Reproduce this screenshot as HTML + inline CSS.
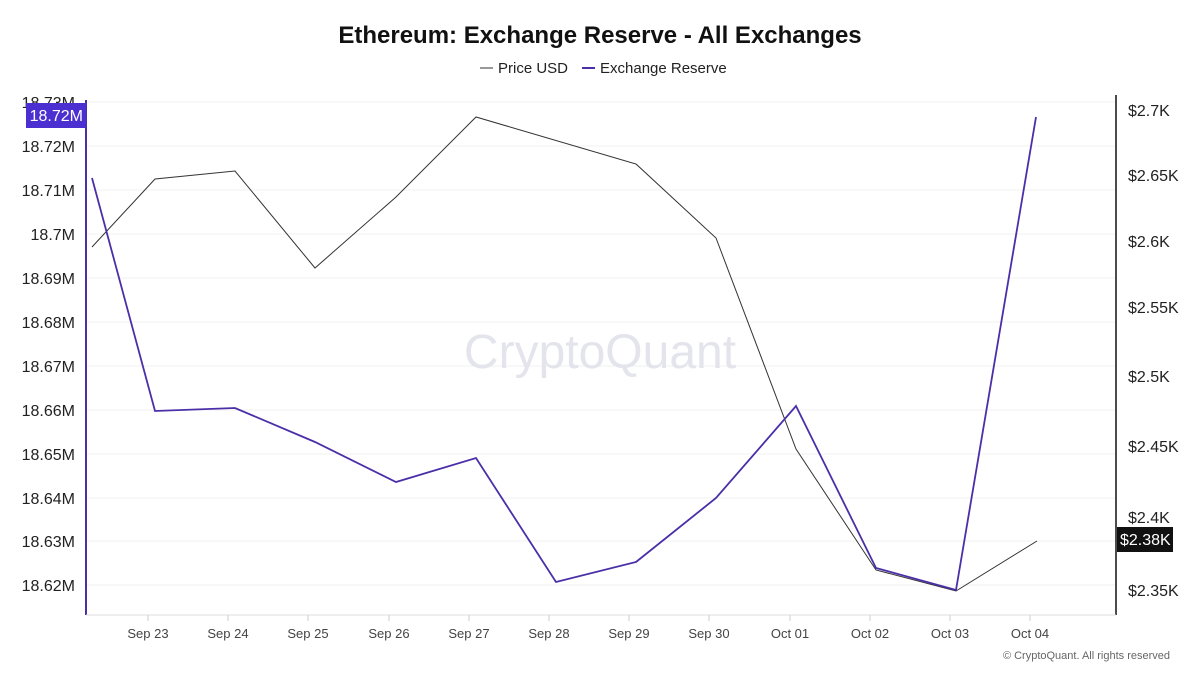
<!DOCTYPE html>
<html><head><meta charset="utf-8"><style>
body{margin:0;background:#fff;width:1200px;height:675px;overflow:hidden;font-family:"Liberation Sans",sans-serif}
</style></head><body>
<svg width="1200" height="675" xmlns="http://www.w3.org/2000/svg" font-family="Liberation Sans, sans-serif">
<text x="600" y="43" text-anchor="middle" font-size="24" font-weight="bold" fill="#111">Ethereum: Exchange Reserve - All Exchanges</text>
<line x1="480" y1="68" x2="493" y2="68" stroke="#333" stroke-width="1"/>
<text x="498" y="73" font-size="15" fill="#222">Price USD</text>
<line x1="582" y1="68" x2="595" y2="68" stroke="#4b2fa8" stroke-width="2"/>
<text x="600" y="73" font-size="15" fill="#222">Exchange Reserve</text>
<g stroke="#f0f0f0" stroke-width="1">
<line x1="86" x2="1116" y1="102" y2="102"/><line x1="86" x2="1116" y1="146" y2="146"/><line x1="86" x2="1116" y1="190" y2="190"/><line x1="86" x2="1116" y1="234" y2="234"/><line x1="86" x2="1116" y1="278" y2="278"/><line x1="86" x2="1116" y1="322" y2="322"/><line x1="86" x2="1116" y1="366" y2="366"/><line x1="86" x2="1116" y1="410" y2="410"/><line x1="86" x2="1116" y1="454" y2="454"/><line x1="86" x2="1116" y1="498" y2="498"/><line x1="86" x2="1116" y1="541" y2="541"/><line x1="86" x2="1116" y1="585" y2="585"/>
</g>
<text x="600" y="368" text-anchor="middle" font-size="48" fill="#e4e4ec">CryptoQuant</text>
<line x1="86" y1="100" x2="86" y2="615" stroke="#4b2fa8" stroke-width="2"/>
<line x1="1116" y1="95" x2="1116" y2="615" stroke="#111" stroke-width="1.5"/>
<line x1="86" y1="615" x2="1116" y2="615" stroke="#ddd"/>
<g font-size="16" fill="#222" text-anchor="end">
<text x="75" y="108">18.73M</text><text x="75" y="152">18.72M</text><text x="75" y="196">18.71M</text><text x="75" y="240">18.7M</text><text x="75" y="284">18.69M</text><text x="75" y="328">18.68M</text><text x="75" y="372">18.67M</text><text x="75" y="416">18.66M</text><text x="75" y="460">18.65M</text><text x="75" y="504">18.64M</text><text x="75" y="547">18.63M</text><text x="75" y="591">18.62M</text>
</g>
<rect x="26" y="103" width="60" height="25" fill="#4b2fd0"/>
<text x="83" y="121" font-size="16" fill="#fff" text-anchor="end">18.72M</text>
<g font-size="16" fill="#222">
<text x="1128" y="116">$2.7K</text><text x="1128" y="181">$2.65K</text><text x="1128" y="247">$2.6K</text><text x="1128" y="313">$2.55K</text><text x="1128" y="382">$2.5K</text><text x="1128" y="452">$2.45K</text><text x="1128" y="523">$2.4K</text><text x="1128" y="596">$2.35K</text>
</g>
<rect x="1117" y="527" width="56" height="25" fill="#111"/>
<text x="1120" y="545" font-size="16" fill="#fff">$2.38K</text>
<g font-size="13" fill="#444" text-anchor="middle">
<text x="148" y="638">Sep 23</text><text x="228" y="638">Sep 24</text><text x="308" y="638">Sep 25</text><text x="389" y="638">Sep 26</text><text x="469" y="638">Sep 27</text><text x="549" y="638">Sep 28</text><text x="629" y="638">Sep 29</text><text x="709" y="638">Sep 30</text><text x="790" y="638">Oct 01</text><text x="870" y="638">Oct 02</text><text x="950" y="638">Oct 03</text><text x="1030" y="638">Oct 04</text>
</g>
<g stroke="#ccc"><line x1="148" x2="148" y1="615" y2="621"/><line x1="228" x2="228" y1="615" y2="621"/><line x1="308" x2="308" y1="615" y2="621"/><line x1="389" x2="389" y1="615" y2="621"/><line x1="469" x2="469" y1="615" y2="621"/><line x1="549" x2="549" y1="615" y2="621"/><line x1="629" x2="629" y1="615" y2="621"/><line x1="709" x2="709" y1="615" y2="621"/><line x1="790" x2="790" y1="615" y2="621"/><line x1="870" x2="870" y1="615" y2="621"/><line x1="950" x2="950" y1="615" y2="621"/><line x1="1030" x2="1030" y1="615" y2="621"/></g>
<polyline fill="none" stroke="#333" stroke-width="1" points="92,247 155,179 235,171 315,268 396,197 476,117 636,164 716,238 796,449 876,570 956,591 1037,541"/>
<polyline fill="none" stroke="#4b2fa8" stroke-width="1.8" points="92,178 155,411 235,408 315,442 396,482 476,458 556,582 636,562 716,498 796,406 876,568 956,590 1036,117"/>
<text x="1170" y="659" font-size="11" fill="#666" text-anchor="end">© CryptoQuant. All rights reserved</text>
</svg>
</body></html>
